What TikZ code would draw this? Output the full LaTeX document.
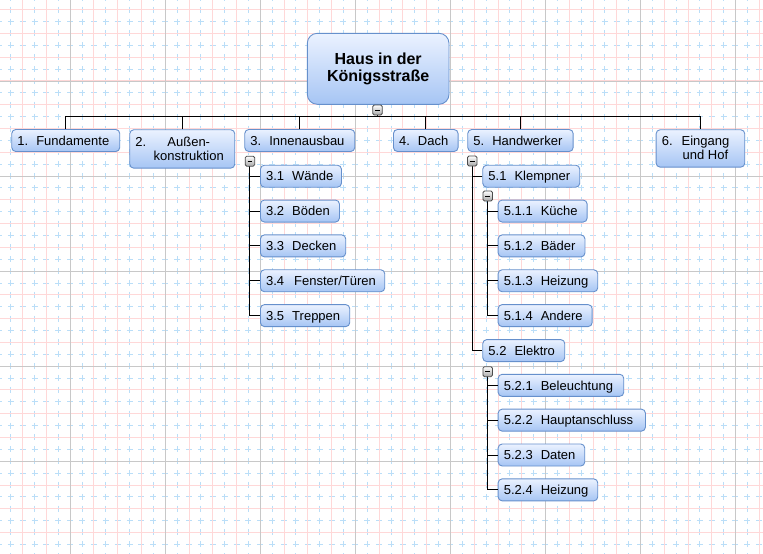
\documentclass[tikz,border=0pt]{standalone}
\usepackage{fontspec}
\setmainfont{Liberation Sans}
\definecolor{gridpink}{HTML}{FFD8D8}
\definecolor{gridblue}{HTML}{BADEF8}
\definecolor{gridgray}{HTML}{C8C8C8}
\definecolor{boxline}{HTML}{6690CC}
\definecolor{boxtop}{HTML}{EBF2FF}
\definecolor{boxbot}{HTML}{A6C5F4}
\tikzset{
  base/.style={draw=boxline, line width=0.9pt, rounded corners=4pt,
    top color=boxtop, bottom color=boxbot, text=black,
    font=\fontsize{13}{14}\selectfont},
  box/.style={base, inner xsep=5.7pt, inner ysep=0pt, minimum height=22pt,
    text height=9.4pt, text depth=0pt, anchor=west},
  boxtwo/.style={base, inner sep=0pt, anchor=north west},
  rootbox/.style={base, rounded corners=10pt, inner sep=0pt, align=center,
    minimum width=141.7pt, minimum height=71pt,
    font=\bfseries\fontsize{16}{17}\selectfont},
  conn/.style={draw=black, line width=1pt},
  icon/.style={draw=black!70, line width=0.8pt, rounded corners=1.5pt,
    top color=white, bottom color=black!35, minimum width=9.5pt,
    minimum height=10pt, inner sep=0pt,
    path picture={\draw[black, line width=1pt]
      ([xshift=2.4pt]path picture bounding box.west) --
      ([xshift=-2.4pt]path picture bounding box.east);}},
  gridb/.style={gridblue, line width=1pt, dash pattern=on 6pt off 5.88pt},
  gridp/.style={gridpink, line width=1pt},
  gridg/.style={gridgray, line width=1pt}
}
\newcommand\bx[5]{\node[box] (#1) at (#2,#4)
  {\makebox[\dimexpr #3pt-#2pt-11.4pt\relax][l]{#5}};}
\newcommand\gp{\hspace{8pt}}
\begin{document}
\begin{tikzpicture}[x=1pt,y=-1pt]
\useasboundingbox (0,0) rectangle (763,554);
% background grid
\fill[white] (0,0) rectangle (763,554);
\begin{scope}
\clip (0,0) rectangle (763,554);
\foreach \k [evaluate=\k as \xx using 10.8+23.765*\k] in {0,...,32}
  \draw[gridb, dash phase=5.18pt] (\xx,0) -- (\xx,554);
\foreach \k [evaluate=\k as \yy using 21.6+23.765*\k] in {-1,...,22}
  \draw[gridb, dash phase=4.08pt] (0,\yy) -- (763,\yy);
\foreach \k [evaluate=\k as \xx using 22.7+23.765*\k] in {0,...,31}
  \draw[gridp] (\xx,0) -- (\xx,554);
\foreach \k [evaluate=\k as \yy using 9.7+23.765*\k] in {0,...,22}
  \draw[gridp] (0,\yy) -- (763,\yy);
\foreach \k [evaluate=\k as \xx using 70.23+95.06*\k] in {0,...,7}
  \draw[gridg] (\xx,0) -- (\xx,554);
\foreach \k [evaluate=\k as \yy using 81+95.06*\k] in {0,...,4}
  \draw[gridg] (0,\yy) -- (763,\yy);
\end{scope}

% root
\node[rootbox] (root) at (378.15,68.8) {Haus in der\\Königsstraße};

% top level
\bx{n1}{11.3}{119.3}{140.5}{1.\gp Fundamente}
\node[boxtwo, minimum width=105pt, minimum height=38.4pt] (n2) at (129.3,129.3)
  {\raisebox{-1.5pt}[\height][\depth]{\begin{tabular}{@{}l@{}c@{}}\makebox[13pt][l]{2.} & \makebox[80.6pt]{Außen-}\\ & \makebox[80.6pt]{konstruktion}\end{tabular}}};
\bx{n3}{244.3}{354.3}{140.5}{3.\gp Innenausbau}
\bx{n4}{393}{457.6}{140.5}{4.\gp Dach}
\bx{n5}{467.3}{572.7}{140.5}{5.\gp Handwerker}
\node[boxtwo, minimum width=88.6pt, minimum height=37.4pt] (n6) at (655.7,129.3)
  {\raisebox{-1.5pt}[\height][\depth]{\begin{tabular}{@{}l@{}c@{}}\makebox[10pt][l]{6.} & \makebox[67.2pt]{Eingang}\\ & \makebox[67.2pt]{und Hof}\end{tabular}}};

% level 2 under 3
\bx{n31}{260}{341}{176.2}{3.1\gp Wände}
\bx{n32}{260}{339}{211.05}{3.2\gp Böden}
\bx{n33}{260}{345.3}{245.9}{3.3\gp Decken}
\bx{n34}{260}{384.3}{280.75}{3.4\hspace{10pt}Fenster/Türen}
\bx{n35}{260}{349.3}{315.6}{3.5\gp Treppen}

% level 2/3 under 5
\bx{n51}{482.3}{579.3}{176.2}{5.1\gp Klempner}
\bx{n511}{497.7}{586.7}{211.05}{5.1.1\gp Küche}
\bx{n512}{497.7}{584.5}{245.9}{5.1.2\gp Bäder}
\bx{n513}{497.7}{597.3}{280.75}{5.1.3\gp Heizung}
\bx{n514}{497.7}{591.7}{315.6}{5.1.4\gp Andere}
\bx{n52}{482.3}{564.3}{350.6}{5.2\gp Elektro}
\bx{n521}{497.7}{623.3}{385.3}{5.2.1\gp Beleuchtung}
\bx{n522}{497.7}{645}{420.15}{5.2.2\gp Hauptanschluss}
\bx{n523}{497.7}{584.3}{455}{5.2.3\gp Daten}
\bx{n524}{497.7}{597.3}{489.85}{5.2.4\gp Heizung}

% icon positions
\coordinate (p0) at (377.5,110);
\coordinate (p3) at (249.9,161.2);
\coordinate (p5) at (472.3,161);
\coordinate (p51) at (487.7,196);
\coordinate (p52) at (487.7,371.7);
\coordinate (bus) at (377.5,116);

% connectors
\draw[conn] (root.south -| p0) -- (bus);
\draw[conn] (n1.north) |- (n6.north |- bus) -- (n6.north);
\foreach \n in {n2,n3,n4,n5}
  \draw[conn] (\n.north) -- (\n.north |- bus);
\foreach \n in {n31,n32,n33,n34,n35}
  \draw[conn] (p3) |- (\n.west);
\foreach \n in {n51,n52}
  \draw[conn] (p5) |- (\n.west);
\foreach \n in {n511,n512,n513,n514}
  \draw[conn] (p51) |- (\n.west);
\foreach \n in {n521,n522,n523,n524}
  \draw[conn] (p52) |- (\n.west);

% collapse icons
\node[icon] (ic0) at (p0) {};
\node[icon] (ic3) at (p3) {};
\node[icon] (ic5) at (p5) {};
\node[icon] (ic51) at (p51) {};
\node[icon] (ic52) at (p52) {};
\end{tikzpicture}
\end{document}
